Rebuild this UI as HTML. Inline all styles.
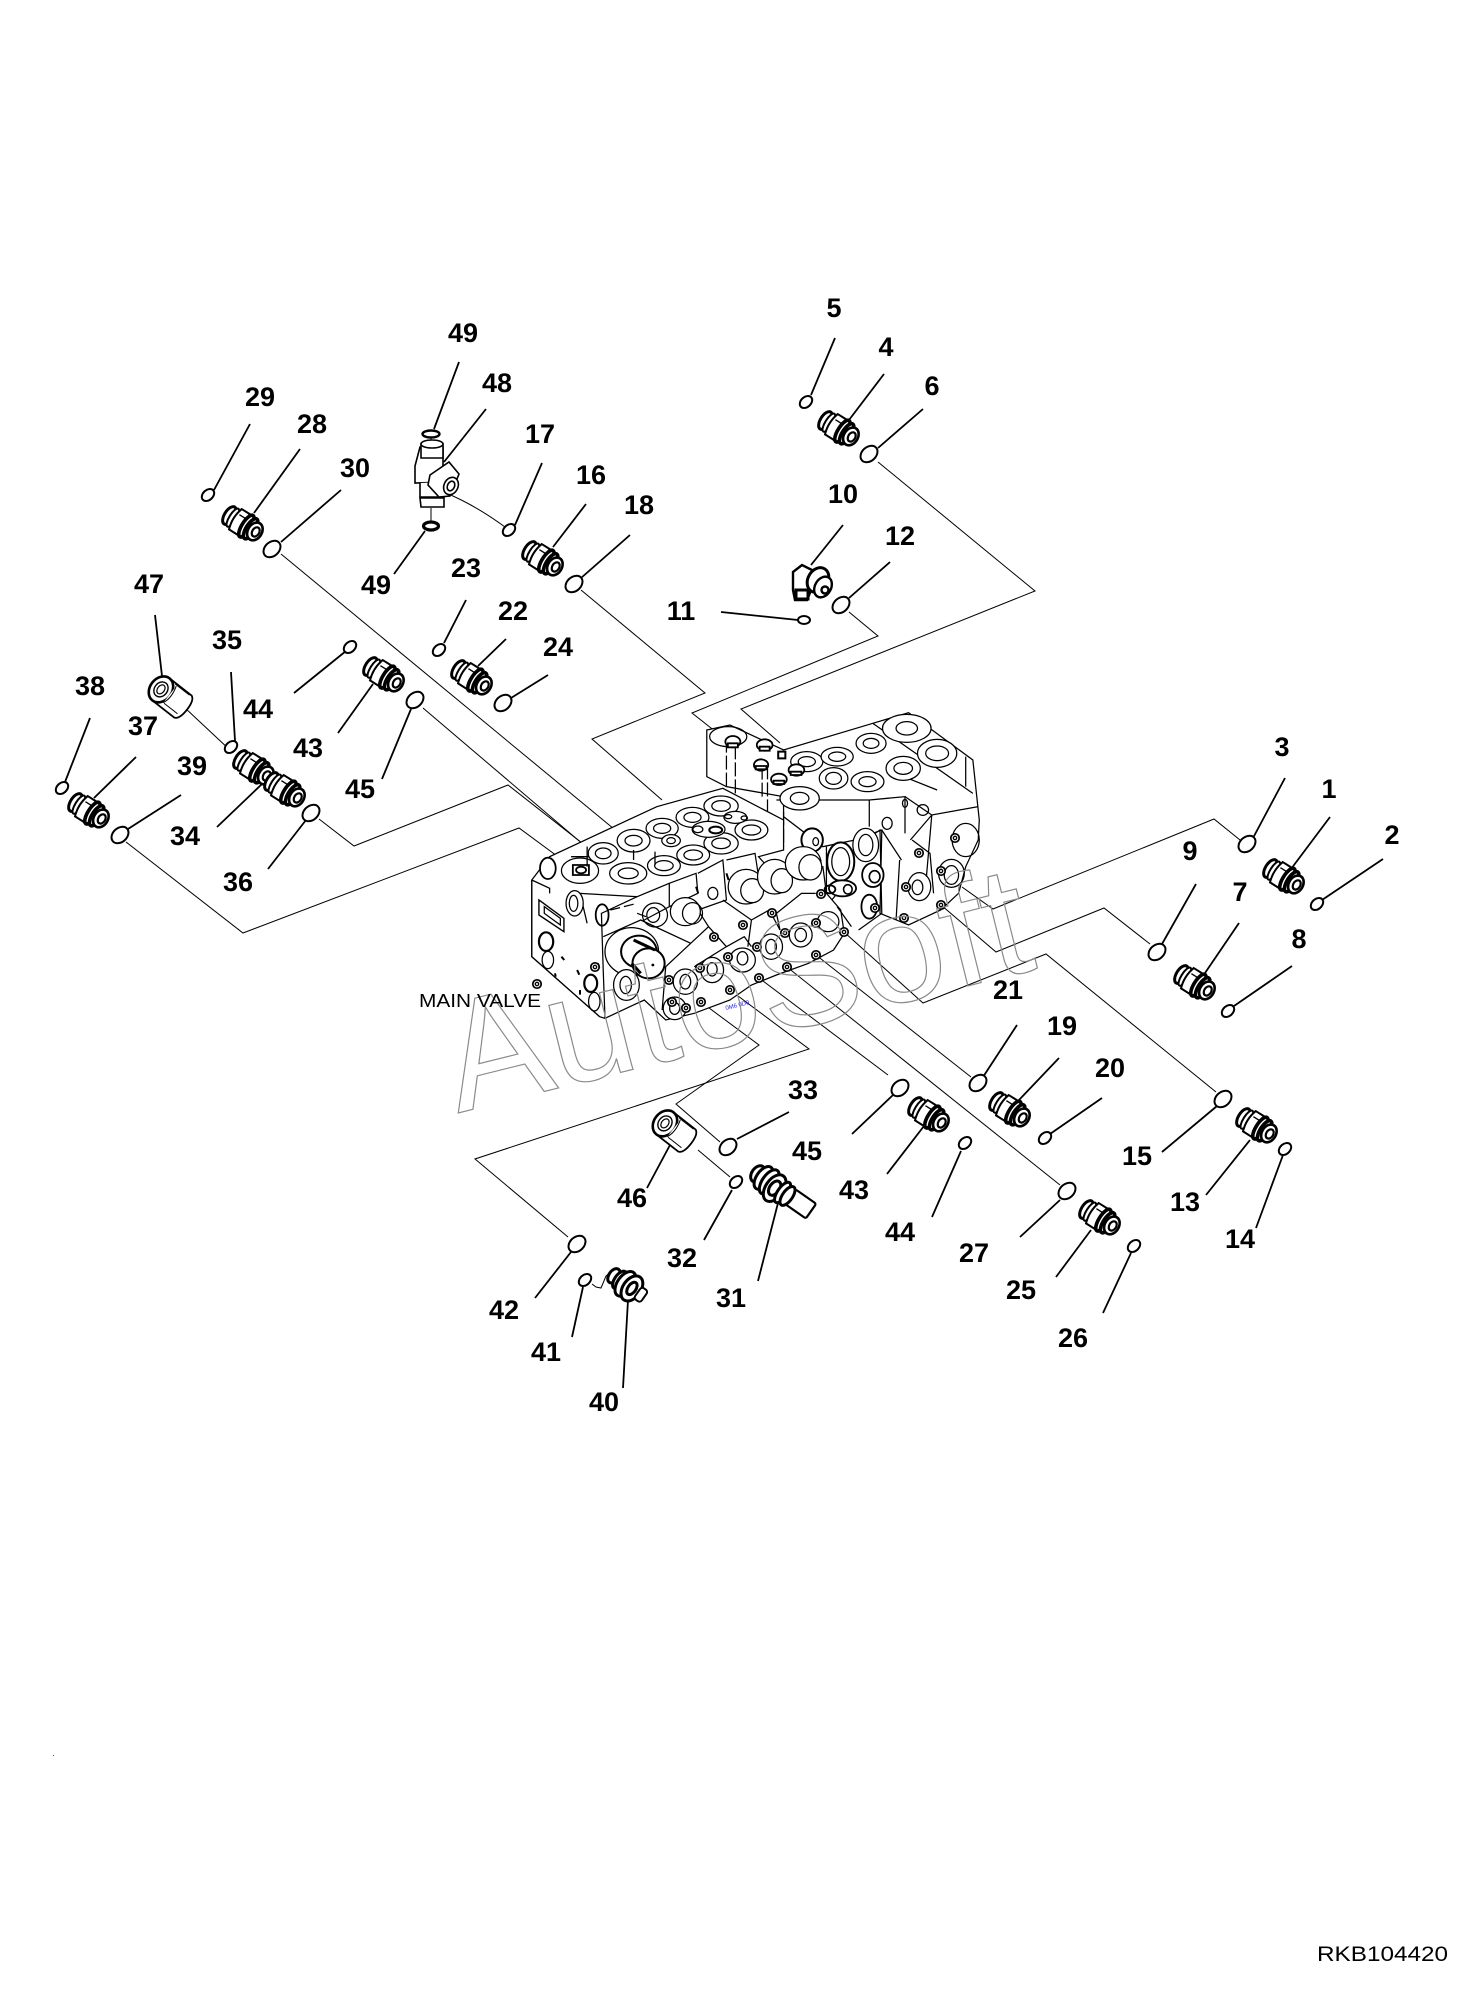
<!DOCTYPE html>
<html><head><meta charset="utf-8"><style>
html,body{margin:0;padding:0;background:#fff;overflow:hidden}
svg{display:block}
.l text{font:bold 27px "Liberation Sans",sans-serif;text-anchor:middle;fill:#000}
.v *{vector-effect:non-scaling-stroke}
</style></head><body>
<svg xmlns="http://www.w3.org/2000/svg" width="1477" height="2008" viewBox="0 0 1477 2008">
<defs>
<ellipse id="r" rx="9.5" ry="7" transform="rotate(-42)" fill="#fff" stroke="#000" stroke-width="2"/>
<ellipse id="s" rx="7" ry="5" transform="rotate(-42)" fill="#fff" stroke="#000" stroke-width="2"/>
<g id="f" transform="rotate(32)" fill="#fff" stroke="#000" stroke-width="2.3">
<ellipse cx="-16" cy="0" rx="5" ry="10" stroke-width="3"/><ellipse cx="-12" cy="0" rx="3.5" ry="10.5" stroke-width="2"/>
<path d="M-9-12H1V12H-9Q-13 0-9-12Z" stroke-width="2"/><path d="M-8-6H0" stroke-width="1.4"/>
<ellipse cx="4" cy="0" rx="4.5" ry="12.5" stroke-width="3.6"/><ellipse cx="9" cy="0" rx="4.5" ry="11.5" stroke-width="3.6"/>
<ellipse cx="14" cy="0" rx="7" ry="9.5" stroke-width="2.6"/><ellipse cx="15" cy="0" rx="3.5" ry="5" stroke-width="2.2"/></g>
<g id="b" fill="#fff" stroke="#000"><circle r="4.2" stroke-width="1.7"/><circle r="1.7" stroke-width="1.3"/></g>
<g id="p" transform="rotate(38)" fill="#fff" stroke="#000" stroke-width="1.8">
<path d="M-14-14H14Q19-12 19 0Q19 12 14 14H-14Z"/>
<ellipse cx="-14" cy="0" rx="11" ry="14" stroke-width="2.6"/><ellipse cx="-14" cy="0" rx="6.5" ry="8" stroke-width="1.4"/><ellipse cx="-14" cy="0" rx="3.5" ry="5" stroke-width="1.2"/>
<path d="M-6-13H12M-3 9H14M-4 9Q0 0-4-12" stroke-width="1"/></g>
</defs>

<!-- connectors -->
<g fill="none" stroke="#000" stroke-width="1">
<path d="M281 554L614 829"/>
<path d="M581 590L705 693L592 739L662 800"/>
<path d="M849 612L878 636L692 713L730 743"/>
<path d="M878 462L1035 591L741 709L780 743"/>
<path d="M423 708L591 851"/>
<path d="M319 819L354 846L508 785L587 847"/>
<path d="M126 842L243 933L519 828L576 870"/>
<path d="M568 1237L475 1159L809 1049L730 990"/>
<path d="M720 1142L676 1104L759 1045L701 1002"/>
<path d="M698 1150L730 1177"/>
<path d="M888 1075L759 978"/>
<path d="M1060 1185L787 967"/>
<path d="M971 1077L816 955"/>
<path d="M1216 1092L1046 954L923 1003L844 932"/>
<path d="M1150 944L1104 908L996 952L941 905"/>
<path d="M1240 840L1214 819L993 909L962 887"/>
<path d="M592 1284L596 1287L601 1288L606 1276L613 1270"/>
<path d="M755 1178L762 1184L768 1176"/>
<path d="M446 493Q475 505 505 527"/>
<path d="M431 438V452M431 508V522"/>
<path d="M184 707L231 751"/>
</g>

<!-- valve body -->
<g class="v" transform="translate(480 680) scale(0.35714 0.33333)" fill="none" stroke="#000" stroke-width="1.25">
<!-- upper block -->
<path fill="#fff" d="M635 150L700 135L850 210L1100 130L1200 98L1380 240L1398 420L1395 480L1360 560L1340 640L1290 690L1200 735L1120 700L1125 450L1050 480L960 500L850 410L850 350L690 320L635 290Z"/>
<path d="M690 320V180M715 340V200M790 350V240M805 400V250M850 395V500" stroke-dasharray="14 3"/>
<path d="M1100 130L1380 340M830 360L1090 360L1090 440M1090 360L1190 350L1190 460M1190 350L1265 405L1395 380M1265 405L1205 480M1265 405L1250 590"/>
<path d="M1210 480L1260 520L1270 640M1175 540L1165 720M1125 450L1180 540M1140 270L1280 330M1360 320L1360 230" />
<ellipse cx="695" cy="170" rx="52" ry="30"/>
<g fill="#fff">
<ellipse cx="915" cy="245" rx="45" ry="30"/><ellipse cx="1000" cy="230" rx="45" ry="28"/><ellipse cx="1095" cy="190" rx="42" ry="30"/>
<ellipse cx="1195" cy="145" rx="68" ry="42"/><ellipse cx="1280" cy="220" rx="55" ry="42"/><ellipse cx="1185" cy="265" rx="48" ry="36"/>
<ellipse cx="1085" cy="305" rx="46" ry="30"/><ellipse cx="990" cy="295" rx="40" ry="32"/><ellipse cx="895" cy="355" rx="55" ry="35"/>
</g>
<ellipse cx="915" cy="245" rx="24" ry="15"/><ellipse cx="1000" cy="230" rx="24" ry="14"/><ellipse cx="1095" cy="190" rx="22" ry="15"/>
<ellipse cx="1195" cy="145" rx="30" ry="20"/><ellipse cx="1280" cy="220" rx="32" ry="22"/><ellipse cx="1185" cy="265" rx="26" ry="18"/>
<ellipse cx="1085" cy="305" rx="24" ry="15"/><ellipse cx="990" cy="295" rx="22" ry="18"/><ellipse cx="895" cy="355" rx="26" ry="18"/>
<g stroke-width="1.8" fill="#fff">
<ellipse cx="708" cy="185" rx="21" ry="17"/><ellipse cx="797" cy="195" rx="22" ry="17"/><ellipse cx="787" cy="255" rx="20" ry="17"/><ellipse cx="837" cy="298" rx="22" ry="17"/><ellipse cx="886" cy="270" rx="22" ry="17"/>
<path d="M694 190h28v12h-28zM783 200h28v12h-28zM772 258h30v10h-30zM822 302h30v10h-30zM870 275h30v10h-30z"/>
</g>
<rect x="835" y="215" width="20" height="20" stroke-width="2"/>
<path d="M1050 500L1120 450L1125 700L1060 750M970 500V680M970 680L1000 640" />
<ellipse cx="1080" cy="495" rx="36" ry="50" fill="#fff"/><ellipse cx="1080" cy="495" rx="20" ry="32"/>
<ellipse cx="1010" cy="545" rx="38" ry="58" fill="#fff" stroke-width="2"/><ellipse cx="1010" cy="545" rx="25" ry="42"/>
<ellipse cx="930" cy="480" rx="30" ry="35" stroke-width="2" fill="#fff"/><ellipse cx="940" cy="485" rx="8" ry="12"/>
<ellipse cx="1360" cy="480" rx="38" ry="50"/><ellipse cx="1320" cy="580" rx="36" ry="42"/><ellipse cx="1320" cy="585" rx="20" ry="28"/>
<ellipse cx="1230" cy="620" rx="32" ry="42"/><ellipse cx="1225" cy="622" rx="15" ry="22"/><ellipse cx="1140" cy="430" rx="14" ry="18"/><ellipse cx="1240" cy="390" rx="16" ry="16"/><ellipse cx="1190" cy="370" rx="7" ry="12"/>
<!-- lower block -->
<path fill="#fff" d="M145 600L195 530L495 380L680 325L850 420L850 510L780 530L830 590L880 570L960 560L970 640L1010 690L1020 760L990 810L920 850L830 885L760 915L700 960L600 1000L520 1020L460 960L350 1015L335 1010L145 830Z"/>
<path d="M145 600L195 625L195 640M145 600V830L335 1010M280 640L440 650M440 650L340 700L345 870L350 1015M440 650L530 610L530 680L460 720M530 610L605 580L610 640L530 680M610 580L680 540L690 660L610 690L640 740M690 540L770 520L780 590M680 660L760 720L750 800M840 750L830 700L900 640L940 640M1000 680L1040 740"/>
<path d="M345 770L450 720L590 790L520 860L510 990M590 790L640 740L690 800L600 860M690 800L740 770L760 800M760 720L810 690L840 750M280 640L300 730"/>
<path d="M465 710L440 700M365 690L440 670" stroke-dasharray="10 4"/>
<ellipse cx="190" cy="565" rx="22" ry="32" stroke-width="1.8" fill="#fff"/>
<g fill="#fff">
<ellipse cx="280" cy="572" rx="52" ry="38"/><ellipse cx="345" cy="520" rx="42" ry="32"/><ellipse cx="430" cy="482" rx="46" ry="34"/><ellipse cx="510" cy="445" rx="45" ry="30"/>
<ellipse cx="595" cy="412" rx="46" ry="30"/><ellipse cx="675" cy="378" rx="48" ry="30"/><ellipse cx="415" cy="580" rx="52" ry="32"/><ellipse cx="515" cy="557" rx="46" ry="30"/>
<ellipse cx="597" cy="525" rx="46" ry="30"/><ellipse cx="675" cy="490" rx="48" ry="32"/><ellipse cx="760" cy="450" rx="46" ry="30"/><ellipse cx="535" cy="482" rx="26" ry="18"/>
<ellipse cx="640" cy="448" rx="46" ry="24"/><ellipse cx="715" cy="412" rx="32" ry="18"/>
</g>
<ellipse cx="345" cy="520" rx="22" ry="16"/><ellipse cx="430" cy="482" rx="24" ry="16"/><ellipse cx="510" cy="445" rx="24" ry="15"/><ellipse cx="595" cy="412" rx="24" ry="15"/><ellipse cx="675" cy="378" rx="26" ry="16"/>
<ellipse cx="415" cy="580" rx="28" ry="16"/><ellipse cx="515" cy="557" rx="26" ry="15"/><ellipse cx="597" cy="525" rx="26" ry="15"/><ellipse cx="675" cy="490" rx="26" ry="16"/><ellipse cx="760" cy="450" rx="26" ry="15"/>
<ellipse cx="535" cy="482" rx="12" ry="9"/><ellipse cx="660" cy="450" rx="18" ry="10" stroke-width="2"/><ellipse cx="610" cy="448" rx="14" ry="10"/><ellipse cx="695" cy="410" rx="10" ry="6"/><ellipse cx="740" cy="414" rx="9" ry="6"/>
<path d="M260 555h45v30h-45z" stroke-width="1.8" fill="#fff"/><ellipse cx="283" cy="570" rx="14" ry="10" stroke-width="1.8"/>
<path d="M300 500V560M255 530h50M430 510v30M490 515v40" stroke-width="1.3"/>
<!-- front faces -->
<ellipse cx="265" cy="670" rx="24" ry="38" fill="#fff"/><ellipse cx="262" cy="670" rx="12" ry="24"/>
<ellipse cx="342" cy="705" rx="18" ry="32" stroke-width="1.8"/>
<path d="M165 660L235 715L235 755L165 705Z" stroke-width="1.4" /><path d="M180 680L225 715L225 735L180 700Z"/>
<ellipse cx="185" cy="785" rx="20" ry="28" stroke-width="2.2"/><ellipse cx="190" cy="840" rx="16" ry="26"/><ellipse cx="310" cy="910" rx="18" ry="26" stroke-width="2.2"/><ellipse cx="320" cy="965" rx="16" ry="28"/>
<path d="M228 830l8 10M272 870l6 14M330 850l4 14M210 880l2 10M280 930v14" stroke-width="2"/>
<ellipse cx="490" cy="705" rx="35" ry="36"/><ellipse cx="485" cy="705" rx="18" ry="22"/>
<ellipse cx="575" cy="695" rx="42" ry="42" fill="#fff"/><ellipse cx="595" cy="700" rx="28" ry="32"/><ellipse cx="652" cy="640" rx="14" ry="18"/><path d="M605 620l6 20M690 580l6 20" stroke-width="2"/>
<ellipse cx="745" cy="620" rx="50" ry="52" fill="#fff"/><ellipse cx="762" cy="632" rx="32" ry="36" fill="#fff"/>
<ellipse cx="825" cy="590" rx="48" ry="52" fill="#fff"/><ellipse cx="845" cy="602" rx="30" ry="36" fill="#fff"/>
<ellipse cx="905" cy="550" rx="50" ry="50" fill="#fff"/><ellipse cx="925" cy="562" rx="32" ry="38" fill="#fff"/>
<ellipse cx="1100" cy="585" rx="30" ry="36" stroke-width="1.8" fill="#fff"/><ellipse cx="1105" cy="590" rx="15" ry="18" stroke-width="1.6"/>
<ellipse cx="1015" cy="625" rx="38" ry="24" stroke-width="1.8" fill="#fff"/><ellipse cx="1030" cy="628" rx="12" ry="14" stroke-width="1.6"/><ellipse cx="980" cy="628" rx="15" ry="12" stroke-width="1.8"/>
<ellipse cx="1090" cy="680" rx="22" ry="36" stroke-width="1.8"/>
<ellipse cx="975" cy="725" rx="30" ry="30" fill="#fff"/><ellipse cx="898" cy="765" rx="32" ry="36" fill="#fff"/><ellipse cx="898" cy="765" rx="16" ry="20"/>
<ellipse cx="815" cy="800" rx="32" ry="38" fill="#fff"/><ellipse cx="815" cy="800" rx="15" ry="22"/><ellipse cx="735" cy="840" rx="36" ry="36" fill="#fff"/><ellipse cx="735" cy="835" rx="15" ry="20"/>
<ellipse cx="650" cy="870" rx="32" ry="38" fill="#fff"/><ellipse cx="650" cy="868" rx="14" ry="20"/><ellipse cx="575" cy="905" rx="34" ry="38" fill="#fff"/><ellipse cx="575" cy="905" rx="15" ry="22"/><ellipse cx="545" cy="985" rx="32" ry="34" fill="#fff"/><ellipse cx="545" cy="985" rx="14" ry="18"/>
<!-- large left spool -->
<ellipse cx="425" cy="815" rx="75" ry="72" fill="#fff"/>
<ellipse cx="445" cy="815" rx="50" ry="48" stroke-width="2" fill="#fff"/>
<ellipse cx="472" cy="850" rx="45" ry="45" stroke-width="2" fill="#fff"/>
<circle cx="484" cy="855" r="4" fill="#000" stroke="none"/>
<path d="M430 780L490 810M425 850L450 880" stroke-width="3"/>
<ellipse cx="410" cy="915" rx="36" ry="46" fill="#fff"/><ellipse cx="408" cy="915" rx="16" ry="26"/>
</g>
<!-- bolts -->
<g>
<use href="#b" x="537" y="984"/><use href="#b" x="595" y="967"/><use href="#b" x="669" y="980"/><use href="#b" x="700" y="968"/><use href="#b" x="714" y="937"/><use href="#b" x="743" y="925"/><use href="#b" x="772" y="913"/>
<use href="#b" x="728" y="957"/><use href="#b" x="757" y="947"/><use href="#b" x="785" y="933"/><use href="#b" x="816" y="923"/>
<use href="#b" x="701" y="1002"/><use href="#b" x="730" y="990"/><use href="#b" x="759" y="978"/><use href="#b" x="787" y="967"/><use href="#b" x="816" y="955"/><use href="#b" x="844" y="932"/>
<use href="#b" x="686" y="1008"/><use href="#b" x="672" y="1002"/><use href="#b" x="906" y="887"/><use href="#b" x="941" y="871"/><use href="#b" x="941" y="905"/><use href="#b" x="904" y="918"/><use href="#b" x="919" y="853"/><use href="#b" x="955" y="838"/>
<use href="#b" x="875" y="908"/><use href="#b" x="821" y="894"/>
</g>
<text x="726" y="1010" transform="rotate(-14 726 1010)" font-family="Liberation Sans,sans-serif" font-size="6" fill="#1a1ae0">0M6 0D0</text>

<!-- watermark -->
<text x="458" y="1113" transform="rotate(-14 458 1113)" font-family="Liberation Sans,sans-serif" font-size="156" fill="none" stroke="#8a8a8a" stroke-width="1.2">AutoSoft</text>

<!-- leader lines -->
<g stroke="#000" stroke-width="1.8" fill="none">
<path d="M250 424L214 490M300 449L254 513M341 490L281 542M459 362L434 429M486 409L444 462M542 463L515 525M586 504L553 547M630 535L581 578M394 574L425 531M466 600L444 643M506 639L478 666M548 675L511 698M155 615L162 676M231 672L235 741M294 693L346 651M338 733L373 684M382 779L411 709M90 718L65 782M136 757L94 798M181 795L128 829M217 827L262 784M268 869L306 820"/>
<path d="M835 338L811 395M884 374L849 420M923 409L878 448M843 525L811 565M890 562L849 598M721 612L798 620"/>
<path d="M1285 778L1253 838M1330 817L1291 869M1383 859L1322 900M1196 884L1162 944M1239 923L1205 973M1292 966L1234 1006M1017 1025L983 1077M1059 1058L1019 1100M1102 1098L1050 1134M1162 1152L1217 1106M1206 1195L1250 1140M1256 1228L1283 1155M1020 1237L1060 1200M1056 1277L1091 1230M1103 1313L1131 1253M932 1217L961 1151M887 1174L924 1126"/>
<path d="M852 1134L893 1095M789 1112L737 1139M647 1188L670 1145M704 1240L732 1190M758 1281L778 1203M535 1298L571 1252M572 1337L583 1287M623 1388L628 1300"/>
</g>

<!-- o-rings -->
<g>
<use href="#s" x="208" y="495"/><use href="#r" x="272" y="549"/><use href="#s" x="509" y="530"/><use href="#r" x="574" y="584"/><use href="#s" x="439" y="650"/><use href="#r" x="503" y="703"/>
<use href="#s" x="350" y="647"/><use href="#r" x="415" y="700"/><use href="#s" x="231" y="747"/><use href="#r" x="311" y="813"/><use href="#s" x="62" y="788"/><use href="#r" x="120" y="835"/>
<use href="#s" x="806" y="402"/><use href="#r" x="869" y="454"/><use href="#r" x="841" y="605"/>
<use href="#r" x="1247" y="844"/><use href="#s" x="1317" y="904"/><use href="#r" x="1157" y="952"/><use href="#s" x="1228" y="1011"/><use href="#r" x="978" y="1083"/><use href="#s" x="1045" y="1138"/><use href="#r" x="1223" y="1099"/>
<use href="#s" x="1285" y="1149"/><use href="#r" x="1067" y="1191"/><use href="#s" x="1134" y="1246"/><use href="#s" x="965" y="1143"/><use href="#r" x="728" y="1147"/><use href="#s" x="736" y="1182"/><use href="#r" x="577" y="1244"/><use href="#s" x="585" y="1280"/><use href="#r" x="900" y="1088"/>
<ellipse cx="804" cy="620" rx="6" ry="4" fill="#fff" stroke="#000" stroke-width="2"/>
<ellipse cx="431" cy="434" rx="8.5" ry="3.5" fill="#fff" stroke="#000" stroke-width="2.4"/>
<ellipse cx="431" cy="526" rx="7.5" ry="4" fill="#fff" stroke="#000" stroke-width="3.2"/>
</g>

<!-- fittings -->
<g>
<use href="#f" x="243" y="524"/><use href="#f" x="543" y="559"/><use href="#f" x="472" y="678"/><use href="#f" x="384" y="675"/><use href="#f" x="89" y="811"/>
<use href="#f" x="254" y="768"/><use href="#f" x="285" y="790"/><use href="#f" x="839" y="429"/><use href="#f" x="1284" y="877"/><use href="#f" x="1195" y="983"/><use href="#f" x="1010" y="1110"/><use href="#f" x="1257" y="1126"/><use href="#f" x="1100" y="1218"/><use href="#f" x="929" y="1115"/>
</g>
<!-- elbow 10 -->
<g fill="#fff" stroke="#000" stroke-width="2.4">
<path d="M793 572L802 565L812 570L812 588L807 600L795 600L793 590Z"/>
<ellipse cx="818" cy="580" rx="10" ry="13" transform="rotate(30 818 580)" stroke-width="3"/>
<ellipse cx="823" cy="587" rx="8" ry="11" transform="rotate(30 823 587)" stroke-width="2.4"/>
<circle cx="825" cy="590" r="3.5"/><rect x="796" y="590" width="12" height="9" stroke-width="3"/>
</g>
<!-- plugs 47, 46 -->
<use href="#p" x="172" y="698"/>
<use href="#p" x="676" y="1132"/>
<!-- T fitting 48 -->
<g fill="#fff" stroke="#000" stroke-width="1.6">
<path d="M420 447L443 447V482L415 483V466Z"/>
<path d="M421 444H443V458H421Z"/><ellipse cx="432" cy="444" rx="11" ry="4"/><path d="M420 498H444V507H421Z"/><path d="M420 483V497H444V482"/>
<path d="M430 475L449 462L459 474L450 496L439 497L428 485Z"/>
<ellipse cx="451" cy="486" rx="7" ry="9" transform="rotate(25 451 486)"/><ellipse cx="451" cy="486" rx="3.5" ry="5" transform="rotate(25 451 486)"/>
</g>
<!-- 31 assembly -->
<g transform="translate(773 1187) rotate(35)" fill="#fff" stroke="#000" stroke-width="3">
<rect x="20" y="-11" width="25" height="18" rx="2" stroke-width="2.2"/>
<ellipse cx="-20" cy="-2" rx="6" ry="9"/><ellipse cx="-13" cy="-2" rx="7" ry="13"/><ellipse cx="-6" cy="-2" rx="7" ry="14"/><ellipse cx="2" cy="0" rx="9" ry="15"/><ellipse cx="2" cy="0" rx="5" ry="8"/><ellipse cx="11" cy="-1" rx="5" ry="12"/><ellipse cx="17" cy="-1" rx="5" ry="11"/>
</g>
<!-- 40 assembly -->
<g transform="translate(627 1285) rotate(35)" fill="#fff" stroke="#000" stroke-width="3">
<ellipse cx="-16" cy="0" rx="5" ry="8"/><ellipse cx="-9" cy="0" rx="5" ry="10"/><ellipse cx="-2" cy="0" rx="8" ry="14"/><ellipse cx="6" cy="0" rx="9" ry="14"/><ellipse cx="6" cy="0" rx="4" ry="7"/><rect x="13" y="-7" width="8" height="14" rx="3" stroke-width="2"/>
</g>

<!-- labels -->
<g class="l">
<text x="1329" y="798">1</text><text x="1392" y="844">2</text><text x="1282" y="756">3</text><text x="886" y="356">4</text><text x="834" y="317">5</text><text x="932" y="395">6</text><text x="1240" y="901">7</text><text x="1299" y="948">8</text><text x="1190" y="860">9</text>
<text x="843" y="503">10</text><text x="681" y="620">11</text><text x="900" y="545">12</text><text x="1185" y="1211">13</text><text x="1240" y="1248">14</text><text x="1137" y="1165">15</text><text x="591" y="484">16</text><text x="540" y="443">17</text><text x="639" y="514">18</text>
<text x="1062" y="1035">19</text><text x="1110" y="1077">20</text><text x="1008" y="999">21</text><text x="513" y="620">22</text><text x="466" y="577">23</text><text x="558" y="656">24</text><text x="1021" y="1299">25</text><text x="1073" y="1347">26</text><text x="974" y="1262">27</text>
<text x="312" y="433">28</text><text x="260" y="406">29</text><text x="355" y="477">30</text><text x="731" y="1307">31</text><text x="682" y="1267">32</text><text x="803" y="1099">33</text><text x="185" y="845">34</text><text x="227" y="649">35</text><text x="238" y="891">36</text>
<text x="143" y="735">37</text><text x="90" y="695">38</text><text x="192" y="775">39</text><text x="604" y="1411">40</text><text x="546" y="1361">41</text><text x="504" y="1319">42</text><text x="308" y="757">43</text><text x="258" y="718">44</text><text x="360" y="798">45</text>
<text x="632" y="1207">46</text><text x="149" y="593">47</text><text x="497" y="392">48</text><text x="463" y="342">49</text><text x="376" y="594">49</text><text x="854" y="1199">43</text><text x="900" y="1241">44</text><text x="807" y="1160">45</text>
</g>
<text x="419" y="1007" font-family="Liberation Sans,sans-serif" font-size="18.5" textLength="122" lengthAdjust="spacingAndGlyphs">MAIN VALVE</text>
<text x="1317" y="1961" font-family="Liberation Sans,sans-serif" font-size="21" textLength="131" lengthAdjust="spacingAndGlyphs">RKB104420</text>
<rect x="53" y="1755" width="1" height="1" fill="#555"/>
</svg>
</body></html>
